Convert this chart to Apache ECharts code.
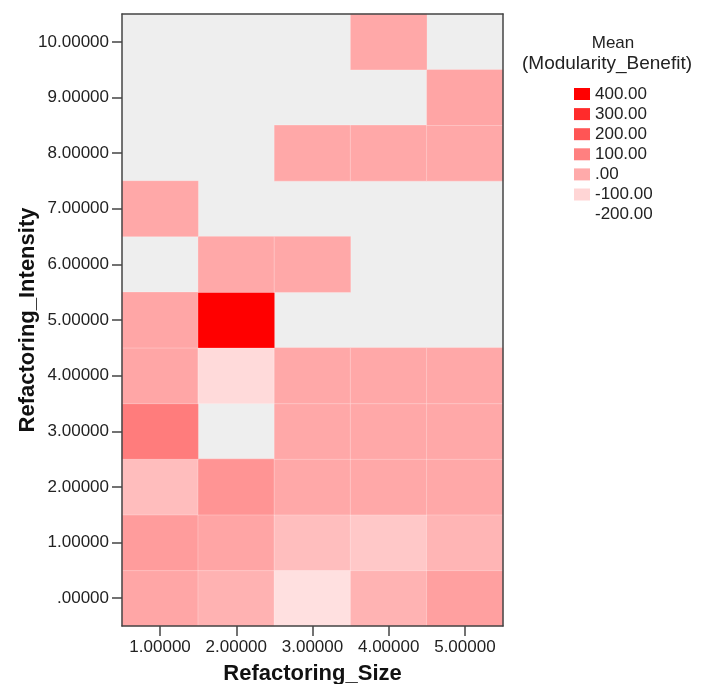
<!DOCTYPE html>
<html>
<head>
<meta charset="utf-8">
<script src="https://cdn.jsdelivr.net/npm/echarts@6/dist/echarts.min.js"></script>
<style>html,body{margin:0;padding:0;background:#fff;}#c{width:705px;height:684px;}</style>
</head>
<body>
<div id="c"></div>
<script>
const sizeCategories = ['1.00000','2.00000','3.00000','4.00000','5.00000'];
const intensityCategories = ['.00000','1.00000','2.00000','3.00000','4.00000','5.00000','6.00000','7.00000','8.00000','9.00000','10.00000'];
// Mean Modularity_Benefit per intensity row (index = intensity), columns = size 1..5; null = no data
const row0  = [9, -19, -127, -21, 24];
const row1  = [33, 12, -47, -71, -26];
const row2  = [-45, 52, 5, 5, 5];
const row3  = [108, null, 5, 5, 5];
const row4  = [9, -113, 5, 5, 5];
const row5  = [9, 400, null, null, null];
const row6  = [null, 5, 5, null, null];
const row7  = [5, null, null, null, null];
const row8  = [null, null, 5, 5, 5];
const row9  = [null, null, null, null, 12];
const row10 = [null, null, null, 5, null];
const legendValues = [400, 300, 200, 100, 0, -100, -200];
const legendLabels = ['400.00','300.00','200.00','100.00','.00','-100.00','-200.00'];
const colorMin = -200, colorMax = 400;

const rows = [row0,row1,row2,row3,row4,row5,row6,row7,row8,row9,row10];
const data = [];
rows.forEach((r, yi) => r.forEach((v, xi) => { if (v !== null) data.push([xi, yi, v]); }));

const FONT = '"Liberation Sans", Arial, sans-serif';
const chart = echarts.init(document.getElementById('c'), null, {renderer: 'canvas'});

const legendGraphics = [
  {type:'text', x: 613, y: 35, style:{text:'Mean', font:'17px ' + FONT, fill:'#222', textAlign:'center'}},
  {type:'text', x: 607, y: 54, style:{text:'(Modularity_Benefit)', font:'19px ' + FONT, fill:'#222', textAlign:'center'}}
];
legendValues.forEach((v, i) => {
  const yc = 94 + i * 20.1;
  if (v > colorMin) {
    legendGraphics.push({type:'rect', shape:{x:574, y:yc-6, width:16, height:12},
      style:{fill: echarts.color.lerp((v - colorMin)/(colorMax - colorMin), ['#ffffff','#ff0000'])}});
  }
  legendGraphics.push({type:'text', x:595, y:yc, style:{text:legendLabels[i], font:'17px ' + FONT, fill:'#222', textVerticalAlign:'middle'}});
});

const axisLineStyle = {color:'#444', width:1.5};
chart.setOption({
  animation: false,
  backgroundColor: '#ffffff',
  grid: {left:122, top:14, right:202, bottom:58, show:true, backgroundColor:'#eeeeee', borderWidth:0, outerBoundsMode:'none', containLabel:false},
  xAxis: [{
    type:'category', data: sizeCategories, position:'bottom', z: 10,
    axisLine:{show:true, lineStyle:axisLineStyle, onZero:false},
    axisTick:{show:true, alignWithLabel:true, length:10, lineStyle:{color:'#444', width:1.5}},
    axisLabel:{fontSize:17, fontFamily:FONT, color:'#222', margin:13, interval:0},
    splitLine:{show:false},
    name:'Refactoring_Size', nameLocation:'middle', nameGap:37, nameMoveOverlap:false,
    nameTextStyle:{fontSize:22, fontWeight:'bold', fontFamily:FONT, color:'#111'}
  },{
    type:'category', data: sizeCategories, position:'top', z: 10,
    axisLine:{show:true, lineStyle:axisLineStyle, onZero:false}, axisTick:{show:false}, axisLabel:{show:false}
  }],
  yAxis: [{
    type:'category', data: intensityCategories, position:'left', z: 10,
    axisLine:{show:true, lineStyle:axisLineStyle, onZero:false},
    axisTick:{show:true, alignWithLabel:true, length:10, lineStyle:{color:'#444', width:1.5}},
    axisLabel:{fontSize:17, fontFamily:FONT, color:'#222', margin:13, interval:0},
    splitLine:{show:false},
    name:'Refactoring_Intensity', nameLocation:'middle', nameGap:83, nameMoveOverlap:false,
    nameTextStyle:{fontSize:22, fontWeight:'bold', fontFamily:FONT, color:'#111'}
  },{
    type:'category', data: intensityCategories, position:'right', z: 10,
    axisLine:{show:true, lineStyle:axisLineStyle, onZero:false}, axisTick:{show:false}, axisLabel:{show:false}
  }],
  visualMap: {
    type:'continuous', show:false, min:colorMin, max:colorMax, seriesIndex:0,
    inRange:{color:['#ffffff','#ff0000']}
  },
  series: [{
    type:'heatmap', xAxisIndex:0, yAxisIndex:0, data: data,
    itemStyle:{borderColor:'rgba(255,255,255,0.25)', borderWidth:1},
    emphasis:{disabled:true}, z: 1
  }],
  graphic: legendGraphics
});
</script>
</body>
</html>
